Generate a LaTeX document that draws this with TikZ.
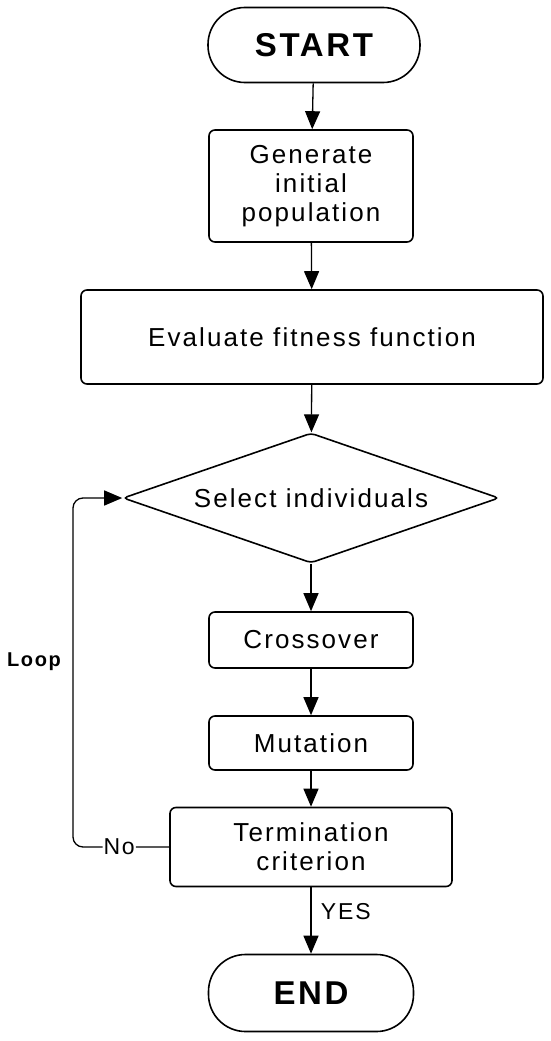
\documentclass[tikz,border=0pt]{standalone}
\usepackage{fontspec}
\setmainfont{Liberation Sans}[LetterSpace=8]
\usetikzlibrary{arrows.meta,positioning,shapes.geometric}
\tikzset{
  box/.style={draw, line width=1.6pt, rounded corners=6pt, align=center, font=\fontsize{26}{29}\selectfont, inner sep=2pt},
  term/.style={box, rounded corners=37pt, font=\fontsize{33}{36}\selectfont\bfseries},
  dec/.style={draw, diamond, aspect=2.89, line width=1.6pt, rounded corners=4pt, inner sep=0pt, font=\fontsize{26}{29}\selectfont},
  arr/.style={-{Triangle[length=18pt,width=15pt]}, line width=1.3pt},
  lbl/.style={font=\fontsize{23}{25}\selectfont}}

\begin{document}
\begin{tikzpicture}[x=1pt, y=-1pt]
  \useasboundingbox (0,0) rectangle (550,1041);
  \node[term, minimum width=212pt, minimum height=75pt] (st) at (314,45) {START};
  \node[box, minimum width=204pt, minimum height=112pt] (gen) at (311,186) {Generate\\initial\\population};
  \node[box, minimum width=462pt, minimum height=94pt] (ev) at (312,337) {Evaluate fitness function};
  \node[dec, minimum width=376pt, minimum height=130pt] (sel) at (311,498) {Select individuals};
  \node[box, minimum width=204pt, minimum height=56pt] (cx) at (311,640) {Crossover};
  \node[box, minimum width=204pt, minimum height=54pt] (mu) at (311,743) {Mutation};
  \node[box, minimum width=282pt, minimum height=79pt] (tc) at (311,847) {Termination\\criterion};
  \node[term, minimum width=205pt, minimum height=77pt] (en) at (311,993) {END};
  \node[font=\fontsize{20}{22}\selectfont\bfseries] (loop) at (34,662) {Loop};
  \coordinate (lp) at (73,847);
  \draw[arr] (st) -- (gen); \draw[arr] (gen) -- (ev); \draw[arr] (ev) -- (sel);
  \draw[arr] (sel) -- (cx); \draw[arr] (cx) -- (mu); \draw[arr] (mu) -- (tc);
  \draw[arr] (tc) -- node[lbl, right=6pt, pos=0.37] {YES} (en);
  \draw[arr, rounded corners=10pt] (tc.west) -- node[lbl, fill=white, inner sep=1pt, pos=0.52] {No} (lp) |- (sel.west);
\end{tikzpicture}
\end{document}
